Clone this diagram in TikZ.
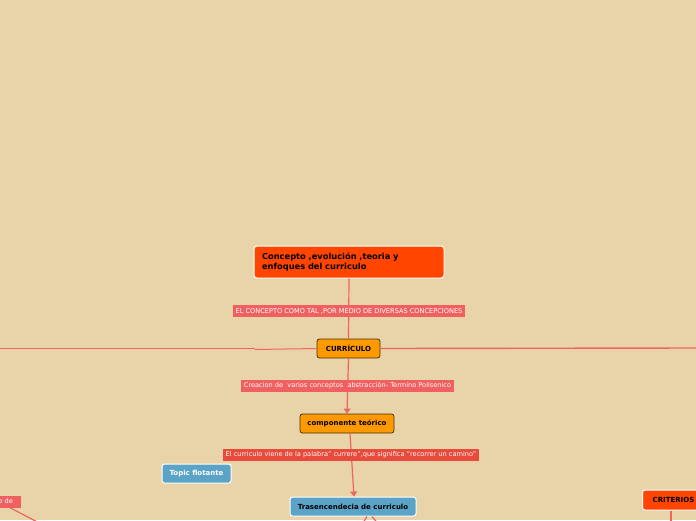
\documentclass[tikz,border=0pt]{standalone}
\usepackage{fontspec}
\setmainfont{DejaVu Sans}
\usetikzlibrary{arrows.meta}
\definecolor{bg}{RGB}{232,212,168}
\definecolor{titlered}{RGB}{255,69,0}
\definecolor{orangebox}{RGB}{255,153,0}
\definecolor{salmon}{RGB}{240,96,96}
\definecolor{redlabel}{RGB}{232,74,60}
\definecolor{linecol}{RGB}{240,100,95}
\definecolor{bluebox}{RGB}{92,164,199}
\definecolor{darkborder}{RGB}{70,50,20}
\tikzset{
  mainbox/.style={rectangle, rounded corners=3pt, fill=titlered, draw=white, line width=1pt, font=\fontsize{8.3}{10}\selectfont\bfseries, text=black, align=left, inner xsep=8pt},
  orangenode/.style={rectangle, rounded corners=2.5pt, fill=orangebox, draw=darkborder, line width=0.8pt, font=\fontsize{7}{8}\selectfont\bfseries, text=black, inner sep=0pt},
  bluenode/.style={rectangle, rounded corners=2.5pt, fill=bluebox, draw=white, line width=1pt, font=\fontsize{7}{8}\selectfont\bfseries, inner sep=0pt},
  critnode/.style={rectangle, rounded corners=2.5pt, fill=titlered, draw=white, line width=1pt, font=\fontsize{7}{8}\selectfont\bfseries, text=black, inner sep=0pt},
  lbl/.style={rectangle, fill=salmon, text=white, font=\fontsize{6.6}{7.5}\selectfont, inner xsep=3pt, inner ysep=0pt, minimum height=12pt},
  conn/.style={draw=linecol, line width=1.2pt},
  arr/.style={conn, -{Triangle[width=7pt,length=5pt]}},
}
\begin{document}
\begin{tikzpicture}[x=1pt,y=-1pt]
\useasboundingbox (0,0) rectangle (696,520);
\clip (0,0) rectangle (696,520);
\fill[bg] (0,0) rectangle (696,520);

% nodes
\node[mainbox, minimum width=190pt, minimum height=32pt, text width=174pt] (title) at (349,262)
  {Concepto ,evolución ,teoria y\\enfoques del curriculo};
\node[orangenode, minimum width=63pt, minimum height=19pt] (curr) at (348.5,348.5) {CURRÍCULO};
\node[orangenode, minimum width=94pt, minimum height=19pt] (comp) at (347,423.5) {componente teórico};
\node[bluenode, text=white, minimum width=69pt, minimum height=19pt] (topic) at (196.5,473.5) {Topic flotante};
\node[bluenode, text=black, minimum width=126pt, minimum height=19pt] (tras) at (353,506.5) {Trasencendecia de curriculo};
\node[critnode, anchor=west, minimum width=62pt, minimum height=20pt] (crit) at (642,500) {CRITERIOS};

% free ends
\coordinate (leftend) at (0,348.5);
\coordinate (leftmid) at (255,348.5);
\coordinate (rightend) at (696,348);
\coordinate (critout) at (671,525);
\coordinate (trasA) at (361,526);
\coordinate (trasB) at (380,526);
\coordinate (diagout) at (45,526);

% connectors
\draw[conn] (title.south) -- (curr.north);
\draw[conn, line width=1.6pt] (leftend) -- (leftmid);
\draw[conn, line width=1pt] (leftmid |- 0,349.5) -- (curr.west);
\draw[conn, line width=1.4pt] (curr.east) -- (rightend);
\draw[arr] (curr.south) -- (comp.north);
\draw[arr] ([xshift=3pt]comp.south) -- ([xshift=1pt]tras.north);
\draw[conn] ([xshift=14pt]tras.south) -- (trasA);
\draw[conn] ([xshift=19pt]tras.south) -- (trasB);
\draw[conn] (crit.south -| critout) -- (critout);

% edge labels
\node[lbl] (l1) at (349,311) {EL CONCEPTO COMO TAL ,POR MEDIO DE DIVERSAS CONCEPCIONES};
\node[lbl] (l2) at (347.5,386) {Creacion de\ \ varios conceptos\ \ abstracción- Termino Polisenico};
\node[lbl, fill=redlabel] (l3) at (351,455) {El curriculo viene de la palabra" currere",que significa "recorrer un camino"};
\node[lbl, anchor=east, minimum width=30pt, align=right] (l4) at (21,501.5) {e de};
\draw[conn] ([xshift=-11pt]l4.south east) -- (diagout);
\end{tikzpicture}
\end{document}
